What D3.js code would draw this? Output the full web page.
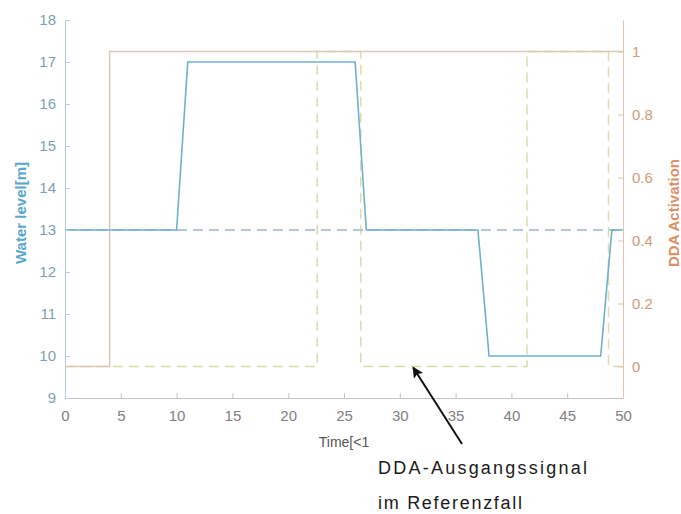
<!DOCTYPE html>
<html>
<head>
<meta charset="utf-8">
<script src="https://cdn.jsdelivr.net/npm/d3@7"></script>
<style>
  html, body { margin: 0; padding: 0; background: #fff; }
  svg { display: block; font-family: "Liberation Sans", Arial, sans-serif; }
</style>
</head>
<body>
<svg id="chart" width="681" height="514"></svg>
<script>
// Water level over time (left axis)
const levelTime  = [0, 10, 11, 26, 27, 37, 38, 48, 49, 50];
const levelValue = [13, 13, 17, 17, 13, 13, 10, 10, 13, 13];

// Nominal water level (dashed)
const nominalTime  = [0, 50];
const nominalValue = [13, 13];

// DDA activation (right axis)
const ddaTime  = [0, 4, 4, 50];
const ddaValue = [0, 0, 1, 1];

// DDA output signal in the reference case (dashed)
const refTime  = [0, 22.6, 22.6, 26.5, 26.5, 41.4, 41.4, 48.7, 48.7, 50];
const refValue = [0, 0, 1, 1, 0, 0, 1, 1, 0, 0];

const xTicks      = [0, 5, 10, 15, 20, 25, 30, 35, 40, 45, 50];
const leftTicks   = [9, 10, 11, 12, 13, 14, 15, 16, 17, 18];
const rightTicks  = [0, 0.2, 0.4, 0.6, 0.8, 1];

const xLabel     = "Time[<1";
const leftLabel  = "Water level[m]";
const rightLabel = "DDA Activation";
const noteLines  = ["DDA-Ausgangssignal", "im Referenzfall"];

const svg = d3.select("#chart");
const plot = { left: 65, right: 623, top: 20, bottom: 398 };

const x  = d3.scaleLinear().domain([0, 50]).range([plot.left, plot.right]);
const yL = d3.scaleLinear().domain([9, 18]).range([plot.bottom, plot.top]);
const yR = d3.scaleLinear().domain([-0.1, 1.1]).range([plot.bottom, plot.top]);

const lineL = d3.line().x(d => x(d[0])).y(d => yL(d[1]));
const lineR = d3.line().x(d => x(d[0])).y(d => yR(d[1]));
const zip = (a, b) => a.map((v, i) => [v, b[i]]);

// Series
svg.append("path")
  .attr("d", lineR(zip(refTime, refValue)))
  .attr("fill", "none").attr("stroke", "#dcdcae").attr("stroke-width", 1.5)
  .attr("stroke-dasharray", "10,6");

svg.append("path")
  .attr("d", lineR(zip(ddaTime, ddaValue)))
  .attr("fill", "none").attr("stroke", "#dcc8b4").attr("stroke-width", 1.5);

svg.append("path")
  .attr("d", lineL(zip(nominalTime, nominalValue)))
  .attr("fill", "none").attr("stroke", "#98b8c6").attr("stroke-width", 1.6)
  .attr("stroke-dasharray", "10,6");

svg.append("path")
  .attr("d", lineL(zip(levelTime, levelValue)))
  .attr("fill", "none").attr("stroke", "#6fb0cc").attr("stroke-width", 1.6);

// Axes (ticks pointing inward)
const gx = svg.append("g").attr("transform", `translate(0,${plot.bottom})`)
  .call(d3.axisBottom(x).tickValues(xTicks).tickSizeInner(-5).tickSizeOuter(0).tickPadding(12));
gx.select(".domain").attr("stroke", "#c4c4c4");
gx.selectAll(".tick line").attr("stroke", "#c4c4c4");
gx.selectAll(".tick text").attr("fill", "#808080").attr("font-size", 15);

const gl = svg.append("g").attr("transform", `translate(${plot.left},0)`)
  .call(d3.axisLeft(yL).tickValues(leftTicks).tickSizeInner(-5).tickSizeOuter(0).tickPadding(9));
gl.select(".domain").attr("stroke", "#b4d0da");
gl.selectAll(".tick line").attr("stroke", "#b4d0da");
gl.selectAll(".tick text").attr("fill", "#7c9fb2").attr("font-size", 15);

const gr = svg.append("g").attr("transform", `translate(${plot.right},0)`)
  .call(d3.axisRight(yR).tickValues(rightTicks).tickFormat(d3.format("~g")).tickSizeInner(-5).tickSizeOuter(0).tickPadding(9));
gr.select(".domain").attr("stroke", "#e2c4b0");
gr.selectAll(".tick line").attr("stroke", "#e2c4b0");
gr.selectAll(".tick text").attr("fill", "#d49a78").attr("font-size", 15);

// Axis titles
svg.append("text")
  .attr("x", (plot.left + plot.right) / 2).attr("y", 447)
  .attr("text-anchor", "middle").attr("font-size", 14).attr("fill", "#555")
  .text(xLabel);

svg.append("text")
  .attr("transform", `translate(26,${(plot.top + plot.bottom) / 2 + 4}) rotate(-90)`)
  .attr("text-anchor", "middle").attr("font-size", 15).attr("font-weight", "bold")
  .attr("fill", "#5aa6cc")
  .text(leftLabel);

svg.append("text")
  .attr("transform", `translate(679,${(plot.top + plot.bottom) / 2 + 4}) rotate(-90)`)
  .attr("text-anchor", "middle").attr("font-size", 15).attr("font-weight", "bold")
  .attr("fill", "#dc9066")
  .text(rightLabel);

// Annotation arrow pointing at the reference signal
svg.append("defs").append("marker")
  .attr("id", "head").attr("viewBox", "0 0 10 10")
  .attr("refX", 9).attr("refY", 5)
  .attr("markerWidth", 16).attr("markerHeight", 11)
  .attr("markerUnits", "userSpaceOnUse")
  .attr("orient", "auto")
  .append("path").attr("d", "M0,0 L10,5 L0,10 L2,5 Z").attr("fill", "#111");

svg.append("line")
  .attr("x1", 462).attr("y1", 444)
  .attr("x2", x(31.2)).attr("y2", yR(0) + 1)
  .attr("stroke", "#111").attr("stroke-width", 2)
  .attr("marker-end", "url(#head)");

svg.selectAll("text.note")
  .data(noteLines)
  .enter().append("text")
  .attr("class", "note")
  .attr("x", 378)
  .attr("y", (d, i) => 474 + i * 35)
  .attr("font-size", 18)
  .attr("fill", "#1a1a1a")
  .attr("textLength", (d, i) => i === 0 ? 209 : 144)
  .attr("lengthAdjust", "spacing")
  .text(d => d);
</script>
</body>
</html>
